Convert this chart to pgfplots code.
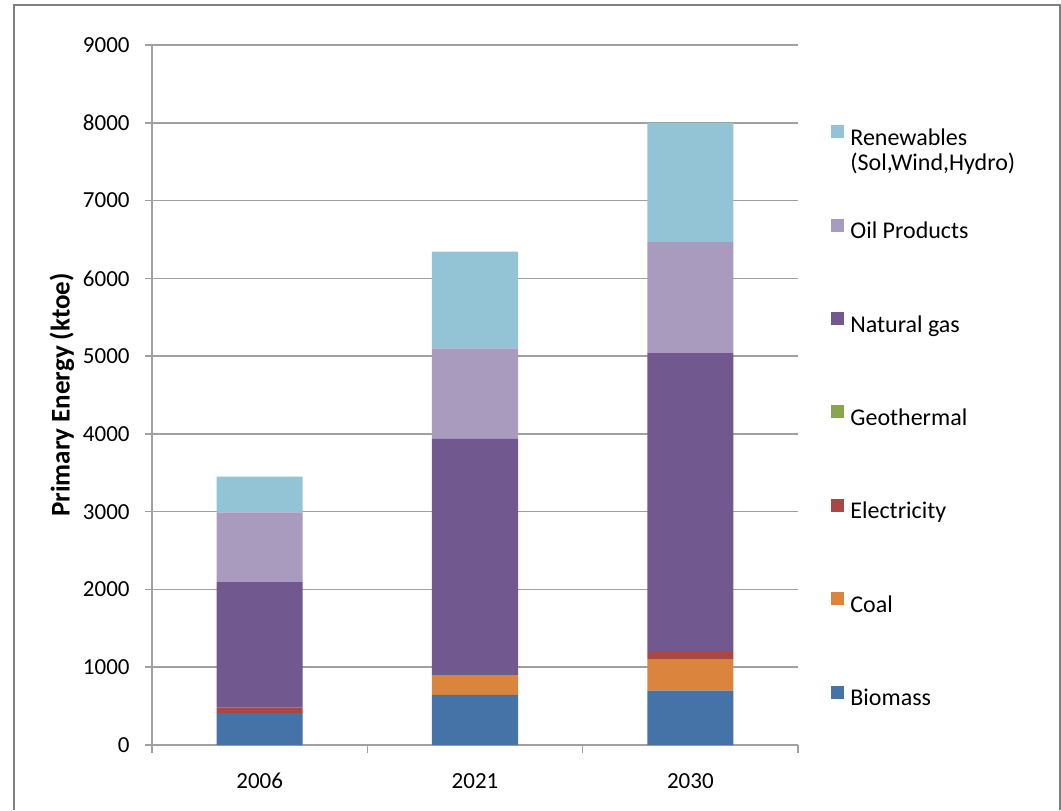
\documentclass[border=0pt]{standalone}
\usepackage{pgfplots}
\pgfplotsset{compat=1.18}
\usepackage{fontspec}
\setmainfont{Carlito}

\definecolor{cBio}{HTML}{4572A7}
\definecolor{cCoal}{HTML}{DB843D}
\definecolor{cElec}{HTML}{AA4643}
\definecolor{cGeo}{HTML}{89A54E}
\definecolor{cGas}{HTML}{71588F}
\definecolor{cOil}{HTML}{A99BBD}
\definecolor{cRen}{HTML}{93C4D5}
\definecolor{cLine}{HTML}{A0A0A0}

\begin{document}
\begin{tikzpicture}
% picture frame: 1061x810 px at 0.5pt per px, axis box at px (152,745)-(798,45)
\useasboundingbox (-76pt,-32.5pt) rectangle (454.5pt,372.5pt);
\draw[color=cLine!80!black, line width=1pt] (-69pt,-32.5pt) -- (-69pt,370pt) -- (454pt,370pt) -- (454pt,-32.5pt);

\begin{axis}[
    scale only axis,
    width=323pt, height=350pt,
    ybar stacked,
    bar width=43pt,
    xmin=-0.5, xmax=2.5,
    ymin=0, ymax=9000,
    xtick={0,1,2},
    xticklabels={2006,2021,2030},
    minor xtick={-0.5,0.5,1.5,2.5},
    ytick={0,1000,...,9000},
    axis x line*=bottom,
    axis y line*=left,
    axis line style={color=cLine, line width=0.75pt},
    tick align=outside,
    major tick length=3.5pt,
    minor tick length=4pt,
    major x tick style={draw=none},
    every tick/.style={color=cLine, line width=0.75pt},
    ymajorgrids=true,
    grid style={color=cLine, line width=0.75pt},
    scaled y ticks=false,
    /pgf/number format/assume math mode=true,
    /pgf/number format/1000 sep={},
    tick label style={font=\fontsize{11.5}{13}\selectfont, color=black},
    yticklabel style={anchor=east, inner sep=0pt, xshift=-7.5pt},
    xticklabel style={anchor=center, inner sep=0pt},
    xticklabel shift=14.5pt,
    ylabel={\textbf{Primary Energy (ktoe)}},
    ylabel style={at={(axis description cs:-0.1393,0.5)}, anchor=center, font=\fontsize{13.5}{15}\selectfont},
    reverse legend,
    legend cell align=left,
    legend style={draw=none, fill=none, inner sep=0pt,
        at={(rel axis cs:1.0511,0.8861)}, anchor=north west,
        row sep=34.6pt, column sep=3pt,
        font=\fontsize{12}{14}\selectfont,
        nodes={inner sep=0pt, text height=8pt, text depth=2pt}},
    legend image code/.code={\fill[#1] (0pt,0.6pt) rectangle (6.5pt,7.1pt);},
]
\addplot[fill=cBio, draw=none] coordinates {(0,410) (1,645) (2,700)};
\addlegendentry{Biomass}
\addplot[fill=cCoal, draw=none] coordinates {(0,0) (1,255) (2,405)};
\addlegendentry{Coal}
\addplot[fill=cElec, draw=none] coordinates {(0,70) (1,0) (2,88)};
\addlegendentry{Electricity}
\addplot[fill=cGeo, draw=none] coordinates {(0,0) (1,0) (2,0)};
\addlegendentry{Geothermal}
\addplot[fill=cGas, draw=none] coordinates {(0,1620) (1,3035) (2,3852)};
\addlegendentry{Natural gas}
\addplot[fill=cOil, draw=none] coordinates {(0,892) (1,1165) (2,1420)};
\addlegendentry{Oil Products}
\addplot[fill=cRen, draw=none] coordinates {(0,458) (1,1245) (2,1535)};
\addlegendentry{\smash{\begin{tabular}[t]{@{}l@{}}Renewables\\[-1.5pt](Sol,Wind,Hydro)\end{tabular}}}
\end{axis}
\end{tikzpicture}
\end{document}
